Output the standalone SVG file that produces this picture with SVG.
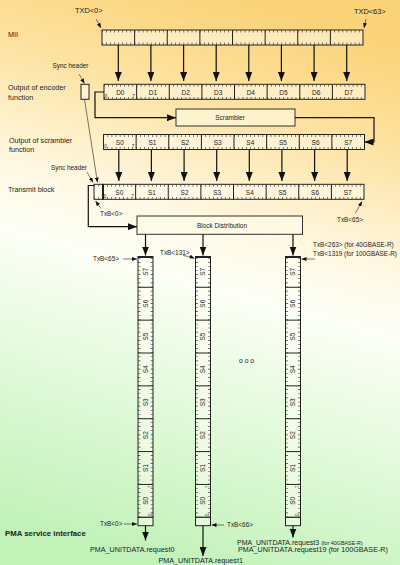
<svg xmlns="http://www.w3.org/2000/svg" xmlns:xlink="http://www.w3.org/1999/xlink" width="400" height="565" viewBox="0 0 400 565">
<defs>
<linearGradient id="bg" x1="0.6" y1="0" x2="0.4" y2="1">
<stop offset="0" stop-color="#FBD378"/>
<stop offset="0.18" stop-color="#FDE2A0"/>
<stop offset="0.4" stop-color="#FFF9E6"/>
<stop offset="0.5" stop-color="#FCFFF6"/>
<stop offset="0.72" stop-color="#E2FADB"/>
<stop offset="1" stop-color="#C1F2B8"/>
</linearGradient>
<style>
.cell{fill:#fffdf2;fill-opacity:0.5;stroke:#222;stroke-width:1}
.box{fill:#fffbe6;fill-opacity:0.6;stroke:#333;stroke-width:1}
.tick{stroke:#333;stroke-width:2.4;stroke-dasharray:0.6 3.478;fill:none}
.vtick{stroke:#333;stroke-width:2.4;stroke-dasharray:0.6 3.5075;fill:none}
.sep{stroke:#222;stroke-width:1;fill:none}
.t{font-family:"Liberation Sans",Arial,sans-serif;fill:#222}
.lbl{font-size:7.2px}
.cl{font-size:6.5px;text-anchor:middle}
.sm{font-size:4.5px}
.sl{font-size:6.4px}
.conn{stroke:#222;stroke-width:1;fill:none}
.arr{stroke:#111;stroke-width:1.2;fill:none;marker-end:url(#ah)}
.sarr{stroke:#222;stroke-width:0.6;fill:none;marker-end:url(#sh)}
</style>
<marker id="ah" markerUnits="userSpaceOnUse" markerWidth="9" markerHeight="7" refX="9" refY="3.5" orient="auto"><path d="M0,0 L9,3.5 L0,7 z" fill="#111"/></marker>
<marker id="sh" markerUnits="userSpaceOnUse" markerWidth="5" markerHeight="4" refX="5" refY="2" orient="auto"><path d="M0,0 L5,2 L0,4 z" fill="#111"/></marker>
<g id="hrow">
<rect x="0" y="0" width="261" height="15" class="cell"/>
<line x1="0" y1="1.2" x2="261" y2="1.2" class="tick"/>
<line x1="0" y1="13.8" x2="261" y2="13.8" class="tick"/>
<path d="M32.625,0v15M65.25,0v15M97.875,0v15M130.5,0v15M163.125,0v15M195.75,0v15M228.375,0v15" class="sep"/>
</g>
<g id="vcol">
<rect x="0" y="256.5" width="15" height="260.8" class="cell"/>
<line x1="1.2" y1="517.3" x2="1.2" y2="256.5" class="vtick"/>
<line x1="13.8" y1="517.3" x2="13.8" y2="256.5" class="vtick"/>
<path d="M0,484.44h15M0,451.58h15M0,418.72h15M0,385.86h15M0,353h15M0,320.14h15M0,287.28h15" class="sep"/>
<path d="M0,257.5h15" class="sep"/>
<rect x="0" y="517.3" width="15" height="8.4" class="cell"/>
<g class="t cl">
<text transform="translate(9.8,500.9) rotate(-90)">S0</text>
<text transform="translate(9.8,468) rotate(-90)">S1</text>
<text transform="translate(9.8,435.2) rotate(-90)">S2</text>
<text transform="translate(9.8,402.3) rotate(-90)">S3</text>
<text transform="translate(9.8,369.4) rotate(-90)">S4</text>
<text transform="translate(9.8,336.6) rotate(-90)">S5</text>
<text transform="translate(9.8,303.7) rotate(-90)">S6</text>
<text transform="translate(9.8,271.9) rotate(-90)">S7</text>
</g>
<g class="t sm">
<text transform="translate(13.6,488) rotate(-90)">7</text>
<text transform="translate(13.6,516) rotate(-90)">0</text>
</g>
</g>
</defs>

<rect x="0" y="0" width="400" height="565" fill="url(#bg)"/>

<g id="labels" class="t lbl">
<text x="8" y="37">MII</text>
<text x="8" y="90">Output of encoder</text>
<text x="8" y="100">function</text>
<text x="9" y="142.5">Output of scrambler</text>
<text x="9" y="151.5">function</text>
<text x="8" y="192">Transmit block</text>
<text x="5" y="536" font-weight="bold" font-size="7.8">PMA service interface</text>
</g>

<g id="small-labels" class="t sl">
<text x="75" y="13" font-size="7.4">TXD&lt;0&gt;</text>
<text x="354" y="13.5" font-size="7.4">TXD&lt;63&gt;</text>
<text x="52.5" y="68">Sync header</text>
<text x="51" y="170">Sync header</text>
<text x="100" y="215.5">TxB&lt;0&gt;</text>
<text x="337" y="221.5">TxB&lt;65&gt;</text>
<text x="93" y="261">TxB&lt;65&gt;</text>
<text x="160" y="254.5">TxB&lt;131&gt;</text>
<text x="313" y="246.5">TxB&lt;263&gt; (for 40GBASE-R)</text>
<text x="313" y="255.5">TxB&lt;1319 (for 100GBASE-R)</text>
<text x="239" y="362.5" font-size="6.8">o o o</text>
<text x="100" y="526">TxB&lt;0&gt;</text>
<text x="227" y="527">TxB&lt;66&gt;</text>
<text x="90" y="551.5" font-size="7.2">PMA_UNITDATA.request0</text>
<text x="158.5" y="563" font-size="7.2">PMA_UNITDATA.request1</text>
<text x="237" y="544.5" font-size="7">PMA_UNITDATA.request3 <tspan font-size="5.4">(for 40GBASE-R)</tspan></text>
<text x="238" y="552" font-size="7.2">PMA_UNITDATA.request19 (for 100GBASE-R)</text>
</g>

<g id="mii">
<use xlink:href="#hrow" href="#hrow" x="102" y="30"/>
</g>

<g id="encoder-sync-header">
<rect x="81" y="84.3" width="8" height="15" class="cell"/>
</g>

<g id="encoder-output">
<use xlink:href="#hrow" href="#hrow" x="104" y="84.3"/>
<g class="t cl">
<text x="120.3" y="94.5">D0</text>
<text x="152.9" y="94.5">D1</text>
<text x="185.6" y="94.5">D2</text>
<text x="218.2" y="94.5">D3</text>
<text x="250.8" y="94.5">D4</text>
<text x="283.4" y="94.5">D5</text>
<text x="316.1" y="94.5">D6</text>
<text x="348.7" y="94.5">D7</text>
</g>
<g class="t sm"><text x="104.8" y="98">0</text><text x="132.3" y="98">7</text></g>
</g>

<g id="scrambler">
<rect x="176" y="109" width="119" height="17" class="box"/>
<text x="230" y="119.5" class="t cl">Scrambler</text>
</g>

<g id="scrambler-output">
<use xlink:href="#hrow" href="#hrow" x="103.5" y="134.5"/>
<g class="t cl">
<text x="119.8" y="144.7">S0</text>
<text x="152.4" y="144.7">S1</text>
<text x="185.1" y="144.7">S2</text>
<text x="217.7" y="144.7">S3</text>
<text x="250.3" y="144.7">S4</text>
<text x="282.9" y="144.7">S5</text>
<text x="315.6" y="144.7">S6</text>
<text x="348.2" y="144.7">S7</text>
</g>
<g class="t sm"><text x="104.3" y="148.2">0</text><text x="131.8" y="148.2">7</text></g>
</g>

<g id="transmit-block">
<rect x="94" y="184.3" width="9" height="15" class="cell"/>
<line x1="94" y1="185.5" x2="103" y2="185.5" class="tick"/>
<line x1="94" y1="198.1" x2="103" y2="198.1" class="tick"/>
<use xlink:href="#hrow" href="#hrow" x="103" y="184.3"/>
<line x1="103" y1="184.3" x2="103" y2="199.3" stroke="#111" stroke-width="1.6"/>
<g class="t cl">
<text x="119.3" y="194.5">S0</text>
<text x="151.9" y="194.5">S1</text>
<text x="184.6" y="194.5">S2</text>
<text x="217.2" y="194.5">S3</text>
<text x="249.8" y="194.5">S4</text>
<text x="282.4" y="194.5">S5</text>
<text x="315.1" y="194.5">S6</text>
<text x="347.7" y="194.5">S7</text>
</g>
<g class="t sm"><text x="103.8" y="198">0</text><text x="131.3" y="198">7</text></g>
</g>

<g id="block-distribution">
<rect x="137" y="216" width="165.5" height="18.3" class="box"/>
<text x="222" y="227.5" class="t cl">Block Distribution</text>
</g>

<g id="lane0"><use xlink:href="#vcol" href="#vcol" x="138"/></g>
<g id="lane1"><use xlink:href="#vcol" href="#vcol" x="195.5"/></g>
<g id="laneN"><use xlink:href="#vcol" href="#vcol" x="285.5"/></g>

<g id="connectors">
<line x1="96" y1="19" x2="101" y2="28" class="sarr"/>
<line x1="366" y1="19" x2="364" y2="28" class="sarr"/>
<line x1="118.3" y1="45" x2="118.3" y2="81" class="arr"/>
<line x1="150.9" y1="45" x2="150.9" y2="81" class="arr"/>
<line x1="183.6" y1="45" x2="183.6" y2="81" class="arr"/>
<line x1="216.2" y1="45" x2="216.2" y2="81" class="arr"/>
<line x1="248.8" y1="45" x2="248.8" y2="81" class="arr"/>
<line x1="281.4" y1="45" x2="281.4" y2="81" class="arr"/>
<line x1="314.1" y1="45" x2="314.1" y2="81" class="arr"/>
<line x1="346.7" y1="45" x2="346.7" y2="81" class="arr"/>
<line x1="79" y1="74" x2="84.5" y2="83.5" class="sarr"/>
<polyline points="104,92 95,92 95,117.7 176,117.7" class="arr"/>
<polyline points="295,117.7 374,117.7 374,142 364.5,142" class="arr"/>
<line x1="84.5" y1="99.3" x2="97.5" y2="182.5" class="sarr"/>
<line x1="87" y1="172" x2="93" y2="182.5" class="sarr"/>
<line x1="118.8" y1="150" x2="118.8" y2="181" class="arr"/>
<line x1="151.4" y1="150" x2="151.4" y2="181" class="arr"/>
<line x1="184.1" y1="150" x2="184.1" y2="181" class="arr"/>
<line x1="216.7" y1="150" x2="216.7" y2="181" class="arr"/>
<line x1="249.3" y1="150" x2="249.3" y2="181" class="arr"/>
<line x1="281.9" y1="150" x2="281.9" y2="181" class="arr"/>
<line x1="314.6" y1="150" x2="314.6" y2="181" class="arr"/>
<line x1="347.2" y1="150" x2="347.2" y2="181" class="arr"/>
<line x1="101" y1="208.5" x2="95.5" y2="201" class="sarr"/>
<line x1="355.5" y1="213" x2="362" y2="201.5" class="sarr"/>
<polyline points="94,185.5 88.3,185.5 88.3,226.7 137,226.7" class="arr"/>
<line x1="145.5" y1="234.3" x2="145.5" y2="255.5" class="arr"/>
<line x1="203" y1="234.3" x2="203" y2="255.5" class="arr"/>
<line x1="293" y1="234.3" x2="293" y2="255.5" class="arr"/>
<line x1="123" y1="259" x2="137" y2="259" class="sarr"/>
<path d="M183,255.5 Q189,256 194.5,258.5" class="sarr"/>
<line x1="315" y1="259" x2="301.5" y2="259" class="sarr"/>
<line x1="124" y1="524" x2="137" y2="524" class="sarr"/>
<line x1="224" y1="525" x2="211.5" y2="525" class="sarr"/>
<line x1="145.5" y1="525.7" x2="145.5" y2="540.5" class="arr"/>
<line x1="203" y1="525.7" x2="203" y2="556" class="arr"/>
<line x1="293" y1="525.7" x2="293" y2="537.5" class="arr"/>
</g>
</svg>
